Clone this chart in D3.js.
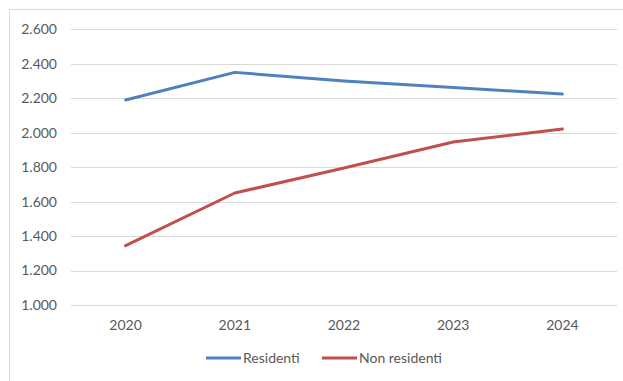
<!DOCTYPE html>
<html>
<head>
<meta charset="utf-8">
<script src="https://cdn.jsdelivr.net/npm/d3@7"></script>
<style>
  html, body { margin: 0; padding: 0; background: #fff; }
  svg { display: block; }
  text { font-family: Lato, "Open Sans", sans-serif; fill: #595959; }
</style>
</head>
<body>
<svg id="chart" width="623" height="381"></svg>
<script>
// Chart data
const years = ["2020", "2021", "2022", "2023", "2024"];
const residenti = [2190, 2350, 2300, 2262, 2224];
const nonResidenti = [1344, 1650, 1795, 1946, 2021];
const yTicks = [1000, 1200, 1400, 1600, 1800, 2000, 2200, 2400, 2600];
const seriesNames = ["Residenti", "Non residenti"];
const seriesColors = ["#4F81BD", "#C0504D"];

const svg = d3.select("#chart");
const W = 623, H = 381;

// Chart area frame
svg.append("rect")
  .attr("x", 9.5).attr("y", 9.5)
  .attr("width", W + 10).attr("height", H + 10)
  .attr("fill", "none").attr("stroke", "#d9d9d9").attr("stroke-width", 1);

const plot = { left: 71, right: 617, top: 29.3, bottom: 305 };

const x = d3.scaleBand().domain(years).range([plot.left, plot.right]);
const y = d3.scaleLinear().domain([1000, 2600]).range([plot.bottom, plot.top]);

// Horizontal gridlines
svg.append("g").selectAll("line").data(yTicks).join("line")
  .attr("x1", plot.left).attr("x2", plot.right)
  .attr("y1", d => Math.round(y(d)) + 0.5).attr("y2", d => Math.round(y(d)) + 0.5)
  .attr("stroke", "#d9d9d9").attr("stroke-width", 1);

// Y axis labels, Italian thousands separator
const fmtThousands = d3.formatLocale({ decimal: ",", thousands: ".", grouping: [3], currency: ["", "€"] }).format(",d");
svg.append("g").selectAll("text").data(yTicks).join("text")
  .attr("x", 57).attr("y", d => y(d))
  .attr("dy", "0.35em").attr("text-anchor", "end")
  .style("font-size", "14px")
  .text(d => fmtThousands(d));

// X axis labels
svg.append("g").selectAll("text").data(years).join("text")
  .attr("x", d => x(d) + x.bandwidth() / 2).attr("y", 325)
  .attr("dy", "0.35em").attr("text-anchor", "middle")
  .style("font-size", "14px")
  .text(d => d);

// Lines
const line = d3.line()
  .x((d, i) => x(years[i]) + x.bandwidth() / 2)
  .y(d => y(d));

[residenti, nonResidenti].forEach((vals, i) => {
  svg.append("path")
    .datum(vals)
    .attr("d", line)
    .attr("fill", "none")
    .attr("stroke", seriesColors[i])
    .attr("stroke-width", 3)
    .attr("stroke-linejoin", "round")
    .attr("stroke-linecap", "round");
});

// Legend
const legendItems = [
  { x: 206, name: seriesNames[0], color: seriesColors[0] },
  { x: 322, name: seriesNames[1], color: seriesColors[1] }
];
const lg = svg.append("g").selectAll("g").data(legendItems).join("g")
  .attr("transform", d => `translate(${d.x},358)`);
lg.append("line")
  .attr("x1", 0).attr("x2", 35).attr("y1", 0).attr("y2", 0)
  .attr("stroke", d => d.color).attr("stroke-width", 3);
lg.append("text")
  .attr("x", 37).attr("y", 0).attr("dy", "0.35em")
  .style("font-size", "14px")
  .text(d => d.name);
</script>
</body>
</html>
